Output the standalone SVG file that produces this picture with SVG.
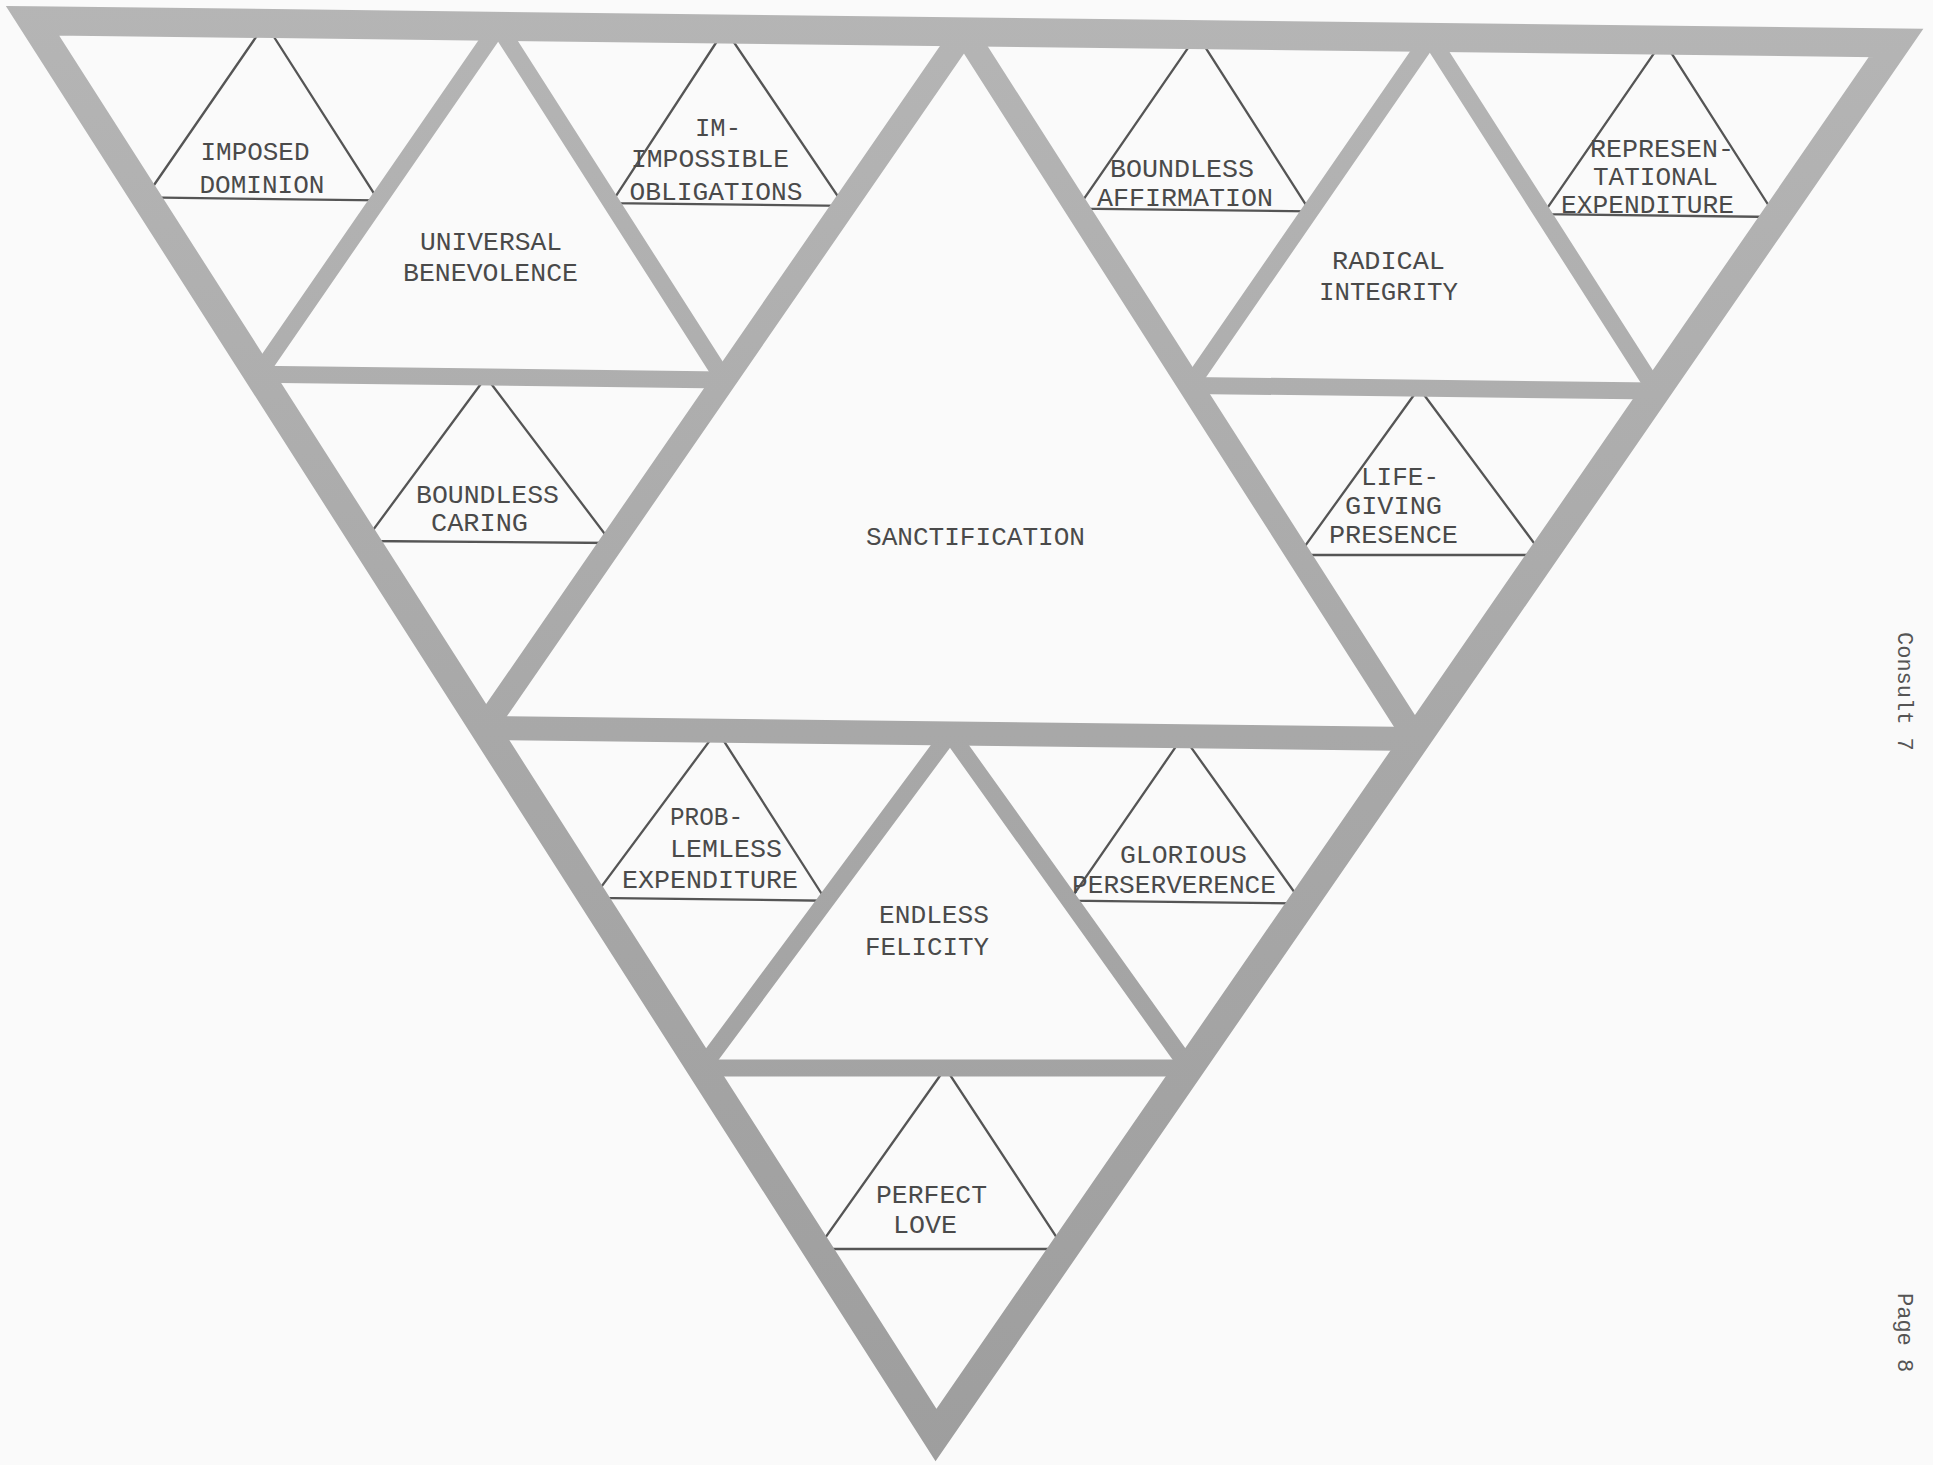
<svg xmlns="http://www.w3.org/2000/svg" width="1933" height="1465" viewBox="0 0 1933 1465">
  <defs>
    <linearGradient id="bandGrad" gradientUnits="userSpaceOnUse" x1="0" y1="0" x2="0" y2="1465">
      <stop offset="0" stop-color="#b5b5b5"/>
      <stop offset="0.5" stop-color="#a8a8a8"/>
      <stop offset="1" stop-color="#9e9e9e"/>
    </linearGradient>
    <style>
      .thin { fill: none; stroke: #555555; stroke-width: 2.3; stroke-linejoin: miter; }
      .lbl { font-family: "Liberation Mono", "Courier New", monospace; font-size: 26px; fill: #4a4a4a; text-anchor: middle; }
      .outer { fill: none; stroke: url(#bandGrad); stroke-width: 29; stroke-linejoin: miter; stroke-miterlimit: 6; }
      .l1 { fill: none; stroke: url(#bandGrad); stroke-width: 24; stroke-linecap: round; }
      .l2 { fill: none; stroke: url(#bandGrad); stroke-width: 17; stroke-linecap: round; }
      .page { font-family: "Liberation Mono", "Courier New", monospace; font-size: 22px; fill: #555555; }
    </style>
  </defs>

  <rect x="0" y="0" width="1933" height="1465" fill="#fafafa"/>

  <!-- nodes -->
  <g id="imposed-dominion">
    <polygon class="thin" points="265.4,23.5 145.4,197.5 378.4,200.3"/>
    <text class="lbl" x="255" y="160" textLength="109" lengthAdjust="spacingAndGlyphs">IMPOSED</text>
    <text class="lbl" x="262" y="193" textLength="125" lengthAdjust="spacingAndGlyphs">DOMINION</text>
  </g>
  <g id="impossible-obligations">
    <polygon class="thin" points="725,29 611.3,203.1 844.3,205.9"/>
    <text class="lbl" x="718" y="136" textLength="46" lengthAdjust="spacingAndGlyphs">IM-</text>
    <text class="lbl" x="710" y="167" textLength="158" lengthAdjust="spacingAndGlyphs">IMPOSSIBLE</text>
    <text class="lbl" x="716" y="200" textLength="173" lengthAdjust="spacingAndGlyphs">OBLIGATIONS</text>
  </g>
  <g id="universal-benevolence">
    <text class="lbl" x="491" y="250" textLength="142" lengthAdjust="spacingAndGlyphs">UNIVERSAL</text>
    <text class="lbl" x="490.5" y="281" textLength="175" lengthAdjust="spacingAndGlyphs">BENEVOLENCE</text>
  </g>
  <g id="boundless-caring">
    <polygon class="thin" points="486,377 364.9,541 611.7,543"/>
    <text class="lbl" x="487.5" y="503" textLength="143" lengthAdjust="spacingAndGlyphs">BOUNDLESS</text>
    <text class="lbl" x="479.5" y="531" textLength="97" lengthAdjust="spacingAndGlyphs">CARING</text>
  </g>
  <g id="sanctification">
    <text class="lbl" x="975.5" y="545" textLength="219" lengthAdjust="spacingAndGlyphs">SANCTIFICATION</text>
  </g>
  <g id="boundless-affirmation">
    <polygon class="thin" points="1197.2,34.6 1077.2,208.6 1310.1,211.4"/>
    <text class="lbl" x="1182" y="177" textLength="144" lengthAdjust="spacingAndGlyphs">BOUNDLESS</text>
    <text class="lbl" x="1185" y="206" textLength="176" lengthAdjust="spacingAndGlyphs">AFFIRMATION</text>
  </g>
  <g id="representational-expenditure">
    <polygon class="thin" points="1663.1,40.2 1543.1,214.2 1776,217"/>
    <text class="lbl" x="1662" y="157" textLength="144" lengthAdjust="spacingAndGlyphs">REPRESEN-</text>
    <text class="lbl" x="1655.5" y="185" textLength="125" lengthAdjust="spacingAndGlyphs">TATIONAL</text>
    <text class="lbl" x="1647.5" y="213" textLength="173" lengthAdjust="spacingAndGlyphs">EXPENDITURE</text>
  </g>
  <g id="radical-integrity">
    <text class="lbl" x="1388.5" y="269" textLength="113" lengthAdjust="spacingAndGlyphs">RADICAL</text>
    <text class="lbl" x="1388.5" y="300" textLength="139" lengthAdjust="spacingAndGlyphs">INTEGRITY</text>
  </g>
  <g id="life-giving-presence">
    <polygon class="thin" points="1419,388 1298.5,555 1542.9,555"/>
    <text class="lbl" x="1400" y="485" textLength="78" lengthAdjust="spacingAndGlyphs">LIFE-</text>
    <text class="lbl" x="1393.5" y="514" textLength="97" lengthAdjust="spacingAndGlyphs">GIVING</text>
    <text class="lbl" x="1393.5" y="543" textLength="129" lengthAdjust="spacingAndGlyphs">PRESENCE</text>
  </g>
  <g id="problemless-expenditure">
    <polygon class="thin" points="717.2,730.6 593.1,897.9 826.1,900.7"/>
    <text class="lbl" x="706.5" y="825" textLength="73" lengthAdjust="spacingAndGlyphs">PROB-</text>
    <text class="lbl" x="726" y="857" textLength="112" lengthAdjust="spacingAndGlyphs">LEMLESS</text>
    <text class="lbl" x="710" y="888" textLength="176" lengthAdjust="spacingAndGlyphs">EXPENDITURE</text>
  </g>
  <g id="endless-felicity">
    <text class="lbl" x="934" y="923" textLength="110" lengthAdjust="spacingAndGlyphs">ENDLESS</text>
    <text class="lbl" x="927" y="955" textLength="124" lengthAdjust="spacingAndGlyphs">FELICITY</text>
  </g>
  <g id="glorious-perserverence">
    <polygon class="thin" points="1183.1,736.2 1069.6,900.7 1302.5,903.5"/>
    <text class="lbl" x="1183.5" y="863" textLength="127" lengthAdjust="spacingAndGlyphs">GLORIOUS</text>
    <text class="lbl" x="1174" y="893" textLength="204" lengthAdjust="spacingAndGlyphs">PERSERVERENCE</text>
  </g>
  <g id="perfect-love">
    <polygon class="thin" points="945.5,1068 817.2,1249 1064.3,1249"/>
    <text class="lbl" x="931.5" y="1203" textLength="111" lengthAdjust="spacingAndGlyphs">PERFECT</text>
    <text class="lbl" x="925" y="1233" textLength="64" lengthAdjust="spacingAndGlyphs">LOVE</text>
  </g>

  <!-- connectors: the grey frame bands -->
  <g id="bands">
    <g id="level2">
      <line class="l2" x1="498.4" y1="26.3" x2="258.4" y2="374.3"/>
      <line class="l2" x1="498.4" y1="26.3" x2="724.3" y2="379.9"/>
      <line class="l2" x1="258.4" y1="374.3" x2="724.3" y2="379.9"/>
      <line class="l2" x1="1430.1" y1="37.4" x2="1190.1" y2="385.4"/>
      <line class="l2" x1="1430.1" y1="37.4" x2="1656" y2="391"/>
      <line class="l2" x1="1190.1" y1="385.4" x2="1656" y2="391"/>
      <line class="l2" x1="950.1" y1="733.4" x2="702" y2="1068"/>
      <line class="l2" x1="950.1" y1="733.4" x2="1189" y2="1068"/>
      <line class="l2" x1="702" y1="1068" x2="1189" y2="1068"/>
    </g>
    <g id="level1">
      <line class="l1" x1="964.3" y1="31.9" x2="484.3" y2="727.9"/>
      <line class="l1" x1="964.3" y1="31.9" x2="1416" y2="739"/>
      <line class="l1" x1="484.3" y1="727.9" x2="1416" y2="739"/>
    </g>
    <polygon id="outer" class="outer" points="32.5,20.7 1896,43 936,1435"/>
  </g>

  <text class="page" transform="translate(1898,632) rotate(90)">Consult 7</text>
  <text class="page" transform="translate(1898,1293) rotate(90)">Page 8</text>
</svg>
